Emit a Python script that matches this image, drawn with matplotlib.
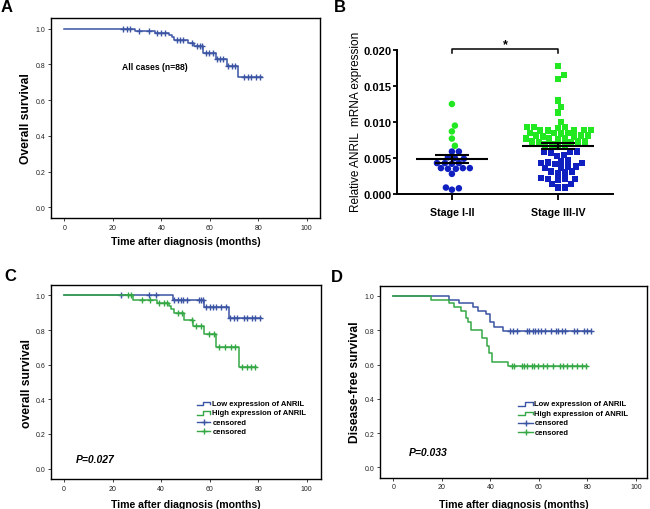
import numpy as np
import matplotlib
matplotlib.use("Agg")
import matplotlib.pyplot as plt

plt.rcParams["font.family"] = ["Liberation Sans", "DejaVu Sans"]

# ---- panel A: all cases, overall survival ----
a_drops = [29.2, 37.5, 43.2, 44.3, 45.3, 51.2, 53.5, 57.3, 62.5, 67.0, 71.8]
a_surv = [0.988, 0.976, 0.965, 0.952, 0.935, 0.918, 0.905, 0.862, 0.830, 0.793, 0.729]
a_cens = [24.1, 25.9, 27.1, 31.0, 35.1, 38.4, 39.9, 41.5, 46.4, 47.7, 49.1, 52.5,
          54.6, 56.0, 56.9, 58.5, 59.8, 61.5, 62.9, 64.3, 65.6, 67.7, 69.3, 70.4,
          74.3, 75.6, 77.0, 78.9, 80.7]
a_end = 81.4

# ---- panel B: relative ANRIL expression by stage ----
stages = ["Stage I-II", "Stage III-IV"]
stage12 = [0.0125, 0.0095, 0.0087, 0.0077, 0.0067,
           0.0059, 0.0059, 0.0051, 0.0049, 0.0050,
           0.0043, 0.0043, 0.0042, 0.0043,
           0.0036, 0.0035, 0.0036, 0.0035, 0.0036,
           0.0028, 0.0009, 0.0006, 0.0008]
stage34 = [0.0178, 0.0165, 0.0160, 0.0130, 0.0121, 0.0113, 0.0100,
           0.0093, 0.0093, 0.0092, 0.0093,
           0.0089, 0.0088, 0.0089, 0.0088, 0.0089,
           0.0085, 0.0084, 0.0085, 0.0085,
           0.0081, 0.0080, 0.0081, 0.0081, 0.0080,
           0.0077, 0.0077, 0.0076, 0.0077,
           0.0073, 0.0072, 0.0073, 0.0073, 0.0072,
           0.0069, 0.0068, 0.0069, 0.0066,
           0.0059, 0.0059, 0.0058, 0.0059,
           0.0054, 0.0053, 0.0047, 0.0046,
           0.0044, 0.0043, 0.0043, 0.0042,
           0.0038, 0.0037, 0.0038, 0.0036,
           0.0031, 0.0030, 0.0031, 0.0029,
           0.0022, 0.0021, 0.0021, 0.0020, 0.0021,
           0.0014, 0.0014, 0.0009, 0.0009]
high_cut = 0.0062

# ---- panel C: overall survival by ANRIL level ----
c_low_drops = [44.8, 57.5, 67.8]
c_low_surv = [0.974, 0.935, 0.867]
c_low_cens = [23.6, 34.8, 37.7, 45.5, 46.9, 48.2, 48.9, 50.5, 55.5, 56.5, 57.3,
              58.6, 60.0, 61.2, 62.6, 64.7, 66.9, 68.5, 69.9, 71.2, 74.0, 75.4,
              77.4, 78.8, 80.8]
c_low_end = 81.2
c_high_drops = [28.6, 38.1, 43.1, 44.0, 45.2, 49.6, 53.3, 57.8, 62.7, 71.9]
c_high_surv = [0.975, 0.954, 0.940, 0.920, 0.900, 0.858, 0.823, 0.775, 0.703, 0.588]
c_high_cens = [26.3, 27.4, 32.2, 35.6, 39.0, 41.1, 42.5, 46.9, 48.6, 52.8, 54.4,
               56.5, 59.6, 61.6, 64.0, 66.4, 68.8, 70.3, 73.5, 75.3, 77.0, 78.6]
c_high_end = 79.0

# ---- panel D: disease-free survival by ANRIL level ----
d_low_drops = [22.9, 27.2, 33.0, 34.8, 38.1, 39.8, 41.5, 45.1]
d_low_surv = [0.977, 0.957, 0.938, 0.915, 0.893, 0.850, 0.821, 0.798]
d_low_cens = [48.1, 49.2, 50.8, 55.0, 56.0, 57.4, 58.5, 59.7, 61.0, 62.5, 64.8,
              66.9, 68.0, 69.4, 70.7, 74.6, 75.8, 78.6, 80.0, 81.3]
d_low_end = 81.5
d_high_drops = [15.4, 23.1, 25.0, 27.8, 30.0, 30.9, 31.9, 36.4, 38.7, 39.6, 40.5, 47.1]
d_high_surv = [0.977, 0.957, 0.938, 0.913, 0.870, 0.850, 0.800, 0.754, 0.710,
               0.665, 0.615, 0.594]
d_high_cens = [48.8, 49.7, 52.9, 53.9, 55.0, 57.0, 58.0, 59.7, 61.6, 63.2, 65.9,
               68.7, 70.0, 71.7, 73.5, 75.6, 77.6, 79.3]
d_high_end = 79.6

km_blue = "#3b54a4"
km_green = "#35a846"
dot_blue = "#1020c0"
dot_green = "#22e822"

legend_labels = ["Low expression of ANRIL", "High expression of ANRIL",
                 "censored", "censored"]


def km_draw(ax, drops, surv, cens, end, color):
    t = np.concatenate([[0], drops, [end]])
    s = np.concatenate([[1.0], surv, [surv[-1]]])
    ax.step(t, s, where="post", color=color, lw=1.1)
    levels = np.concatenate([[1.0], surv])
    cy = levels[np.searchsorted(drops, cens, side="right")]
    ax.plot(cens, cy, ls="none", marker="+", ms=4.5, mew=1.0, color=color)


def km_style(ax, ylabel, ylab_x, xlab_y, xmax=105.5):
    ax.set_xlim(-5.5, xmax)
    ax.set_ylim(-0.06, 1.06)
    ax.set_xticks(range(0, 101, 20))
    ax.set_yticks(np.arange(0, 1.01, 0.2))
    ax.yaxis.set_major_formatter("{x:.1f}")
    ax.tick_params(labelsize=5, length=2.5, width=0.6, pad=1.5, colors="#222222")
    for sp in ax.spines.values():
        sp.set_linewidth(1.0)
    ax.set_xlabel("Time after diagnosis (months)", fontsize=7.6, fontweight="bold")
    ax.set_ylabel(ylabel, fontsize=8.7, fontweight="bold")
    ax.xaxis.set_label_coords(0.5, xlab_y)
    ax.yaxis.set_label_coords(ylab_x, 0.5)


def km_legend(ax, x0, x1, xt, rows):
    cols = [km_blue, km_green, km_blue, km_green]
    for i, (y, c, lab) in enumerate(zip(rows, cols, legend_labels)):
        if i < 2:
            xm = x0 + 0.45 * (x1 - x0)
            ax.plot([x0, xm, xm, x1, x1], [y - 0.01, y - 0.01, y + 0.011, y + 0.011, y - 0.004],
                    color=c, lw=1.0)
        else:
            ax.plot([x0, x1], [y, y], color=c, lw=1.0)
            ax.plot([(x0 + x1) / 2], [y], marker="+", ms=4.5, mew=1.0, color=c)
        ax.text(xt, y, lab, fontsize=5.5, fontweight="bold", va="center")


def beeswarm(values, xscale=106.6, yscale=7200.0, diam=6.2, step=1.0):
    # greedy swarm: each point goes to the closest free offset (in pixels)
    v = np.asarray(values)
    offs = np.zeros(len(v))
    placed = []
    for i in np.argsort(v):
        yp = v[i] * yscale
        k = 0
        found = None
        while found is None:
            for c in ([0.0] if k == 0 else [k * step, -k * step]):
                if all((c - px) ** 2 + (yp - py) ** 2 >= diam ** 2 for px, py in placed):
                    found = c
                    break
            k += 1
        placed.append((found, yp))
        offs[i] = found / xscale
    return offs


fig = plt.figure(figsize=(6.5, 5.1), dpi=100)

# panel A
axA = fig.add_axes([0.0785, 0.5706, 0.4138, 0.3922])
km_draw(axA, a_drops, a_surv, a_cens, a_end, km_blue)
km_style(axA, "Overall survival", -0.071, -0.09)
axA.text(37.4, 0.786, "All cases (n=88)", fontsize=6.2, fontweight="bold",
         ha="center", va="center")

# panel B
axB = fig.add_axes([0.6103, 0.6176, 0.3332, 0.2824])
for i, vals in enumerate([stage12, stage34]):
    vals = np.asarray(vals)
    xs = i + beeswarm(vals)
    cols = np.where(vals > high_cut, dot_green, dot_blue)
    mk = "o" if i == 0 else "s"
    axB.scatter(xs, vals, c=cols, marker=mk, s=22, linewidths=0, zorder=2)
    m = vals.mean()
    se = vals.std(ddof=1) / np.sqrt(len(vals))
    axB.hlines(m, i - 0.34, i + 0.34, color="black", lw=1.5, zorder=3)
    axB.hlines([m - se, m + se], i - 0.16, i + 0.16, color="black", lw=1.5, zorder=3)
    axB.vlines(i, m - se, m + se, color="black", lw=1.5, zorder=3)
axB.set_xlim(-0.52, 1.52)
axB.set_ylim(0, 0.020)
axB.set_xticks([0, 1])
axB.set_xticklabels(stages, fontsize=7.7, fontweight="bold")
axB.set_yticks(np.arange(0, 0.0201, 0.005))
axB.yaxis.set_major_formatter("{x:.3f}")
for lab in axB.get_yticklabels():
    lab.set_fontweight("bold")
axB.tick_params(axis="y", labelsize=8, length=3, width=1.3, pad=1)
axB.tick_params(axis="x", length=4, width=1.3, pad=5)
axB.spines["top"].set_visible(False)
axB.spines["right"].set_visible(False)
axB.spines["left"].set_linewidth(1.4)
axB.spines["bottom"].set_linewidth(1.4)
axB.set_ylabel("Relative ANRIL  mRNA expression", fontsize=8.5)
axB.yaxis.set_label_coords(-0.162, 0.51)
axB.plot([0, 0, 1, 1], [0.0196, 0.0202, 0.0202, 0.0196], color="black", lw=1.1,
         clip_on=False)
axB.text(0.5, 0.0208, "*", fontsize=9, fontweight="bold", ha="center", va="center")

# panel C
axC = fig.add_axes([0.078, 0.0588, 0.4154, 0.3804])
km_draw(axC, c_low_drops, c_low_surv, c_low_cens, c_low_end, km_blue)
km_draw(axC, c_high_drops, c_high_surv, c_high_cens, c_high_end, km_green)
km_style(axC, "overall survival", -0.065, -0.103, xmax=105.75)
km_legend(axC, 54.9, 60.3, 61.1, [0.376, 0.322, 0.268, 0.216])
axC.text(4.8, 0.056, "P=0.027", fontsize=7.5, fontweight="bold", style="italic",
         va="center")

# panel D
axD = fig.add_axes([0.5846, 0.0614, 0.4103, 0.3765])
km_draw(axD, d_low_drops, d_low_surv, d_low_cens, d_low_end, km_blue)
km_draw(axD, d_high_drops, d_high_surv, d_high_cens, d_high_end, km_green)
km_style(axD, "Disease-free survival", -0.071, -0.111, xmax=104.4)
km_legend(axD, 51.3, 57.7, 58.1, [0.370, 0.315, 0.261, 0.204])
axD.text(6.2, 0.092, "P=0.033", fontsize=7.5, fontweight="bold", style="italic",
         va="center")

# panel letters
for lt, (px, py) in zip("ABCD", [(7, 8), (340, 8), (10, 277), (337, 278)]):
    fig.text(px / 650, 1 - py / 510, lt, fontsize=12, fontweight="bold",
             ha="center", va="center")

fig.savefig("out.png", dpi=100)
